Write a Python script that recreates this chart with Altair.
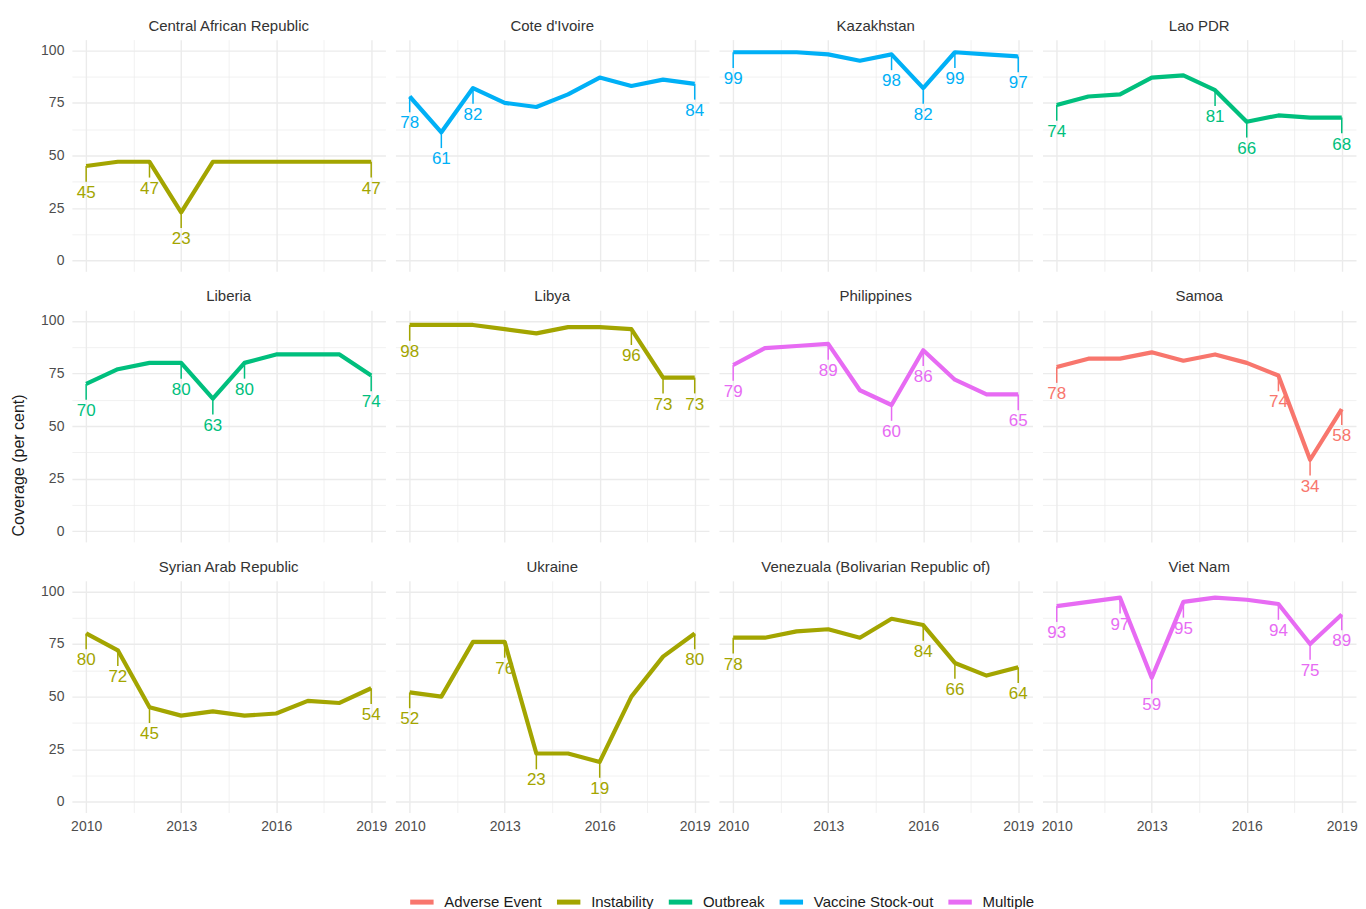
import altair as alt
import pandas as pd

years = list(range(2010, 2020))
countries = ["Central African Republic", "Cote d'Ivoire", "Kazakhstan", "Lao PDR",
             "Liberia", "Libya", "Philippines", "Samoa",
             "Syrian Arab Republic", "Ukraine", "Venezuala (Bolivarian Republic of)", "Viet Nam"]
reasons = ["Instability", "Vaccine Stock-out", "Vaccine Stock-out", "Outbreak",
           "Outbreak", "Instability", "Multiple", "Adverse Event",
           "Instability", "Instability", "Instability", "Multiple"]

car = [45, 47, 47, 23, 47, 47, 47, 47, 47, 47]
civ = [78, 61, 82, 75, 73, 79, 87, 83, 86, 84]
kaz = [99, 99, 99, 98, 95, 98, 82, 99, 98, 97]
lao = [74, 78, 79, 87, 88, 81, 66, 69, 68, 68]
lbr = [70, 77, 80, 80, 63, 80, 84, 84, 84, 74]
lby = [98, 98, 98, 96, 94, 97, 97, 96, 73, 73]
phl = [79, 87, 88, 89, 67, 60, 86, 72, 65, 65]
wsm = [78, 82, 82, 85, 81, 84, 80, 74, 34, 58]
syr = [80, 72, 45, 41, 43, 41, 42, 48, 47, 54]
ukr = [52, 50, 76, 76, 23, 23, 19, 50, 69, 80]
ven = [78, 78, 81, 82, 78, 87, 84, 66, 60, 64]
vnm = [93, 95, 97, 59, 95, 97, 96, 94, 75, 89]
series = [car, civ, kaz, lao, lbr, lby, phl, wsm, syr, ukr, ven, vnm]

labelled_years = [
    [2010, 2012, 2013, 2019],
    [2010, 2011, 2012, 2019],
    [2010, 2015, 2016, 2017, 2019],
    [2010, 2015, 2016, 2019],
    [2010, 2013, 2014, 2015, 2019],
    [2010, 2017, 2018, 2019],
    [2010, 2013, 2015, 2016, 2019],
    [2010, 2017, 2018, 2019],
    [2010, 2011, 2012, 2019],
    [2010, 2013, 2014, 2016, 2019],
    [2010, 2016, 2017, 2019],
    [2010, 2012, 2013, 2014, 2017, 2018, 2019],
]

reason_order = ["Adverse Event", "Instability", "Outbreak", "Vaccine Stock-out", "Multiple"]
palette = ["#F8766D", "#A3A500", "#00BF7D", "#00B0F6", "#E76BF3"]

rows = []
for c, r, vals, lab in zip(countries, reasons, series, labelled_years):
    for y, v in zip(years, vals):
        rows.append({"country": c, "reason": r, "year": y, "coverage": v,
                     "labelled": y in lab})
df = pd.DataFrame(rows)

FONT = "Liberation Sans"

x_enc = alt.X(
    "year:Q",
    scale=alt.Scale(domain=[2009.55, 2019.45], nice=False, zero=False),
    axis=alt.Axis(
        values=[2010, 2011.5, 2013, 2014.5, 2016, 2017.5, 2019],
        labelExpr="datum.value % 3 == 0 ? format(datum.value, 'd') : ''",
        title=None,
        gridWidth={"condition": {"test": "datum.value % 3 == 0", "value": 1.4}, "value": 0.7},
        labelPadding=7,
    ),
)
y_enc = alt.Y(
    "coverage:Q",
    scale=alt.Scale(domain=[-5, 105], nice=False, zero=False),
    axis=alt.Axis(
        values=[0, 12.5, 25, 37.5, 50, 62.5, 75, 87.5, 100],
        labelExpr="datum.value % 25 == 0 ? format(datum.value, 'd') : ''",
        title=None,
        gridWidth={"condition": {"test": "datum.value % 25 == 0", "value": 1.4}, "value": 0.7},
        labelPadding=8,
    ),
)
color_enc = alt.Color(
    "reason:N",
    scale=alt.Scale(domain=reason_order, range=palette),
    legend=alt.Legend(
        title=None, orient="none", direction="horizontal",
        legendX=336, legendY=849,
        symbolType="stroke", symbolStrokeWidth=5, symbolSize=550,
        labelFontSize=15, labelColor="#1a1a1a", columnPadding=4, labelOffset=8,
    ),
)

base = alt.Chart().encode(x=x_enc, y=y_enc, color=color_enc)

line = base.mark_line(strokeWidth=4.2, strokeJoin="round")
seg = (
    base.transform_filter("datum.labelled")
    .transform_calculate(seg_end="datum.coverage - 7.5")
    .mark_rule(strokeWidth=1.5)
    .encode(y2="seg_end:Q")
)
txt = (
    base.transform_filter("datum.labelled")
    .mark_text(dy=27, fontSize=17, font=FONT, baseline="middle")
    .encode(text="coverage:Q")
)

chart = (
    alt.layer(line, seg, txt, data=df)
    .properties(width=314, height=232)
    .facet(
        facet=alt.Facet("country:N", sort=countries, title=None,
                        header=alt.Header(labelFontSize=15, labelColor="#333333",
                                          labelFont=FONT, labelPadding=6)),
        columns=4,
        spacing={"row": 18, "column": 10},
    )
    .properties(
        background="white",
        padding={"left": 2, "top": 10, "right": 0, "bottom": 5},
        title=alt.TitleParams(
            text="Coverage (per cent)", orient="left", anchor="middle",
            fontSize=16, fontWeight="normal", font=FONT, color="#1a1a1a", offset=14,
        ),
    )
    .configure_view(stroke=None)
    .configure_axis(
        domain=False, ticks=False, gridColor="#EBEBEB",
        labelColor="#4D4D4D", labelFontSize=14, labelFont=FONT,
    )
    .configure_legend(labelFont=FONT)
)

chart.save("out.html", embed_options={"renderer": "svg", "actions": False})
